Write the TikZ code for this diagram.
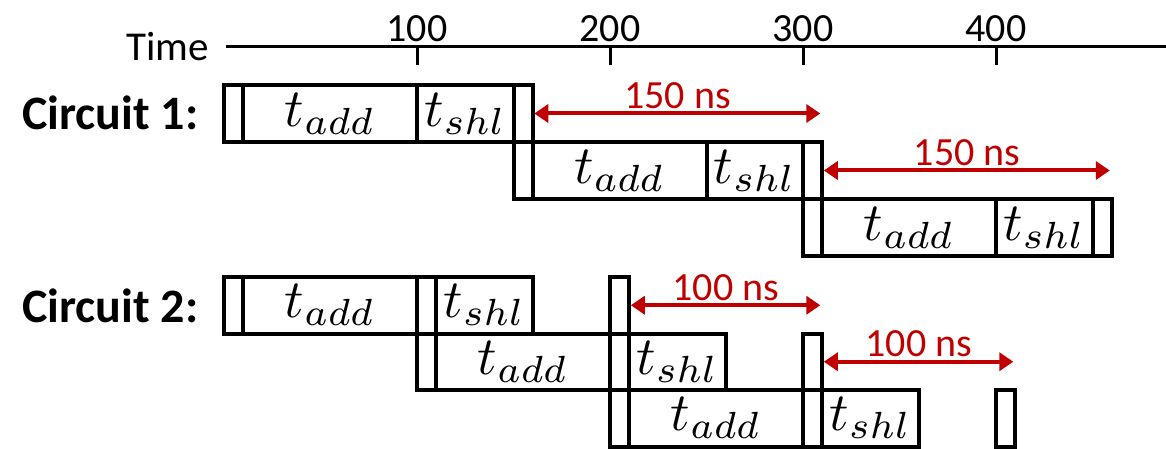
\documentclass[tikz,border=0pt]{standalone}
\usepackage{fontspec}
\setmainfont{Carlito}
\usetikzlibrary{arrows.meta}
\definecolor{dimred}{HTML}{C00000}
\newcommand\tlab[1]{\scalebox{5.4}{\fontsize{10}{12}\selectfont$t_{#1}$}}
\begin{document}
\begin{tikzpicture}[x=1pt,y=-1pt,
  seg/.style={draw=black, line width=4pt, inner sep=0pt, outer sep=0pt, anchor=north west},
  reg/.style={seg, minimum width=19.3pt},
  addbox/.style={seg, minimum width=173.7pt},
  shlbox/.style={seg, minimum width=96.5pt},
  ca/.style={minimum height=57pt},
  cb/.style={minimum height=56.5pt},
  axisline/.style={line width=3pt},
  tickmark/.style={line width=3pt},
  ticklab/.style={anchor=base, inner sep=0pt, font=\fontsize{40}{44}\selectfont},
  rowlab/.style={anchor=base west, inner sep=0pt, font=\fontsize{48}{52}\selectfont\bfseries},
  dim/.style={draw=dimred, line width=4pt, shorten <=1.5pt, shorten >=2pt,
    {Triangle[length=14pt,width=18pt]}-{Triangle[length=14pt,width=18pt]}},
  dimlab/.style={anchor=base, inner sep=0pt, text=dimred, font=\fontsize{40}{44}\selectfont, yshift=5pt}]

\useasboundingbox (0,0) rectangle (1166,449);

% time axis
\node[anchor=base east, inner sep=0pt, font=\fontsize{41}{44}\selectfont] (time) at (209,61) {Time};
\coordinate (axstart) at (226,47);
\coordinate (axend) at (1166,47);
\draw[axisline] (axstart) -- (axend);
\foreach \t/\x in {100/417,200/610,300/803,400/996}{
  \coordinate (tk\t) at (\x,47);
  \draw[tickmark] (tk\t) -- ++(0,18);
  \node[ticklab] (tl\t) at (\x,42) {\t};
}

% row labels
\node[rowlab] (lab1) at (22,130) {Circuit 1:};
\node[rowlab] (lab2) at (22,322) {Circuit 2:};

% ---------- Circuit 1 ----------
\node[reg,ca] (c1r1a) at (224,85) {};
\node[addbox,ca] (c1r1b) at (c1r1a.north east) {\tlab{add}};
\node[shlbox,ca] (c1r1c) at (c1r1b.north east) {\tlab{shl}};
\node[reg,ca] (c1r1d) at (c1r1c.north east) {};

\node[reg,ca] (c1r2a) at (c1r1d.south west) {};
\node[addbox,ca] (c1r2b) at (c1r2a.north east) {\tlab{add}};
\node[shlbox,ca] (c1r2c) at (c1r2b.north east) {\tlab{shl}};
\node[reg,ca] (c1r2d) at (c1r2c.north east) {};

\node[reg,ca] (c1r3a) at (c1r2d.south west) {};
\node[addbox,ca] (c1r3b) at (c1r3a.north east) {\tlab{add}};
\node[shlbox,ca] (c1r3c) at (c1r3b.north east) {\tlab{shl}};
\node[reg,ca] (c1r3d) at (c1r3c.north east) {};

\draw[dim] (c1r1d.east) -- (c1r1d.east -| c1r2d.east) node[dimlab, midway] (d1) {150 ns};
\draw[dim] (c1r2d.east) -- (c1r2d.east -| c1r3d.east) node[dimlab, midway] (d2) {150 ns};

% ---------- Circuit 2 ----------
\node[reg,cb] (c2r1a) at (224,277) {};
\node[addbox,cb] (c2r1b) at (c2r1a.north east) {\tlab{add}};
\node[reg,cb] (c2r1c) at (c2r1b.north east) {};
\node[shlbox,cb] (c2r1d) at (c2r1c.north east) {\tlab{shl}};
\node[reg,cb] (c2r1e) at (610,277) {};

\node[reg,cb] (c2r2a) at (c2r1c.south west) {};
\node[addbox,cb] (c2r2b) at (c2r2a.north east) {\tlab{add}};
\node[reg,cb] (c2r2c) at (c2r2b.north east) {};
\node[shlbox,cb] (c2r2d) at (c2r2c.north east) {\tlab{shl}};
\node[reg,cb] (c2r2e) at (803,333.5) {};

\node[reg,cb] (c2r3a) at (c2r2c.south west) {};
\node[addbox,cb] (c2r3b) at (c2r3a.north east) {\tlab{add}};
\node[reg,cb] (c2r3c) at (c2r3b.north east) {};
\node[shlbox,cb] (c2r3d) at (c2r3c.north east) {\tlab{shl}};
\node[reg,cb] (c2r3e) at (996,390) {};

\draw[dim] (c2r1e.east) -- (c2r1e.east -| c2r2e.east) node[dimlab, midway] (d3) {100 ns};
\draw[dim] (c2r2e.east) -- (c2r2e.east -| c2r3e.east) node[dimlab, midway] (d4) {100 ns};
\end{tikzpicture}
\end{document}
